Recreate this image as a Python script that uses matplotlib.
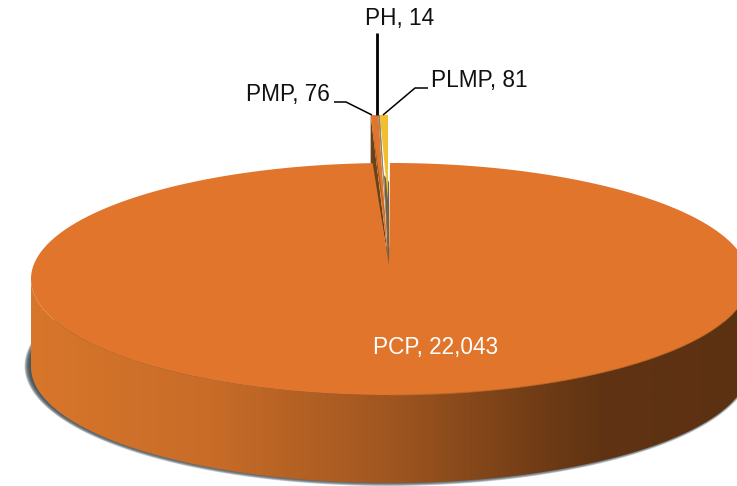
import numpy as np
import matplotlib
matplotlib.use("Agg")
import matplotlib.pyplot as plt
from matplotlib.patches import Polygon
from matplotlib import font_manager as fm
from matplotlib.colors import LinearSegmentedColormap

categories = ["PMP", "PH", "PLMP", "PCP"]
values = [76, 14, 81, 22043]
wall_stops = [(0.0, "#D8762B"), (0.25, "#C86C28"), (0.5, "#A05620"), (0.72, "#6E3B15"), (0.8, "#5F3312"), (1.0, "#5C3112")]

names = {f.name for f in fm.fontManager.ttflist}
narrow = "Liberation Sans Narrow" in names
font = "Liberation Sans Narrow" if narrow else "Liberation Sans"

W, H = 737, 486
fig = plt.figure(figsize=(W / 100, H / 100), dpi=100)
ax = fig.add_axes([0, 0, 1, 1])
ax.set_xlim(0, W)
ax.set_ylim(H, 0)
ax.axis("off")

cx, cy, a, b, depth = 390, 279, 359, 116, 88
TOP, EDGE = "#E0752B", "#C26A28"

def pt(theta, x0=cx, y0=cy, ra=a, rb=b):
    return x0 + ra * np.sin(theta), y0 - rb * np.cos(theta)

# Slice angles derive from the values, clockwise; PCP runs from 0 up to 360-small
total = sum(values)
small = sum(values[:3]) / total * 2 * np.pi
edges = [-small]
for v in values[:3]:
    edges.append(edges[-1] + v / total * 2 * np.pi)

# soft shadow
t = np.linspace(0, 2 * np.pi, 400)
for k in range(10):
    grow = 4.5 - k * 0.6
    x = cx - 2 + (a + grow) * np.sin(t)
    y = cy + depth - 1 + (b + grow * 0.9) * np.cos(t)
    ax.fill(x, y, color="#3C4A52", alpha=0.24, lw=0, zorder=1)

# front wall with horizontal gradient
tw = np.linspace(np.pi / 2, 3 * np.pi / 2, 300)
xe, ye = pt(tw)
wall_xy = np.r_[np.c_[xe, ye], np.c_[xe[::-1], ye[::-1] + depth]]
wall = Polygon(wall_xy, closed=True, transform=ax.transData, fc="none", ec="none")
ax.add_patch(wall)
cmap = LinearSegmentedColormap.from_list("w", wall_stops)
im = ax.imshow(np.linspace(0, 1, 512)[None, :], cmap=cmap, extent=[cx - a, cx + a, cy + b + depth, cy - b],
               aspect="auto", zorder=2, vmin=0, vmax=1)
im.set_clip_path(wall)
ax.set_xlim(0, W)
ax.set_ylim(H, 0)

# small raised slices
ax0, ay0, srb = 388, 265, 150
def spt(th):
    return pt(th, ax0, ay0, a, srb)

# side wall of PMP (dark)
x_l, y_l = spt(edges[0])
ax.add_patch(Polygon([(x_l, y_l), (x_l, cy - b + 1), (ax0, ay0 - 8)], fc="#6A4219", ec="none", zorder=3))
# grey inner wall behind yellow
x_r, y_r = spt(edges[3])
ax.add_patch(Polygon([(x_r - 4, y_r + 60), (x_r + 1, y_r + 67), (ax0 + 1, ay0), (ax0, ay0)], fc="#6F6347", ec="none", zorder=3))

# PCP top surface
tp = np.linspace(0, 2 * np.pi - small, 700)
xp, yp = pt(tp)
ax.add_patch(Polygon(np.r_[[(ax0 + 1, ay0)], np.c_[xp, yp]], fc=TOP, ec="none", zorder=4))
tr = np.linspace(np.pi / 2, np.pi, 200)
xr, yr = pt(tr)
ax.plot(xr, yr, color=EDGE, lw=0.8, zorder=4.5, alpha=0.7)

# small slice tops
slice_cols = ["#E0752B", "#9A8C73", "#F3BE2E"]
apex = [(ax0, ay0 - 8), (ax0, ay0 - 20), (ax0, ay0 - 65)]
for i in range(3):
    th = np.linspace(edges[i], edges[i + 1], 6)
    sx, sy = spt(th)
    ax.add_patch(Polygon(np.r_[[apex[i]], np.c_[sx, sy]], fc=slice_cols[i], ec="none", zorder=5))
# shading between slices
ax.add_patch(Polygon([spt(edges[1]), spt(edges[2]), (ax0, ay0 - 25)], fc="#8C8068", ec="none", zorder=5.5))
ax.add_patch(Polygon([(x_l + 1, y_l + 8), (x_l + 7, y_l + 55), (ax0 - 1, ay0 - 35)], fc="#8A4B1B", ec="none", zorder=5.4))

# leaders
lk = dict(color="black", solid_capstyle="butt", zorder=7)
ax.plot([377, 377], [33, 115], lw=2.0, **lk)
ax.plot([334, 346, 372], [102, 102, 115], lw=1.1, **lk)
ax.plot([428, 415, 383], [88, 88, 115], lw=1.1, **lk)

# labels
fs = 18.5 if narrow else 16.3
lab = dict(family=font, fontsize=fs, zorder=8, va="center")
ax.text(399.5, 18, f"{categories[1]}, {values[1]}", ha="center", color="#111111", **lab)
ax.text(330, 94, f"{categories[0]}, {values[0]}", ha="right", color="#111111", **lab)
ax.text(431, 80, f"{categories[2]}, {values[2]}", ha="left", color="#111111", **lab)
ax.text(436, 347, f"{categories[3]}, {values[3]:,}", ha="center", color="white", **lab)

fig.savefig("out.png", dpi=100)
